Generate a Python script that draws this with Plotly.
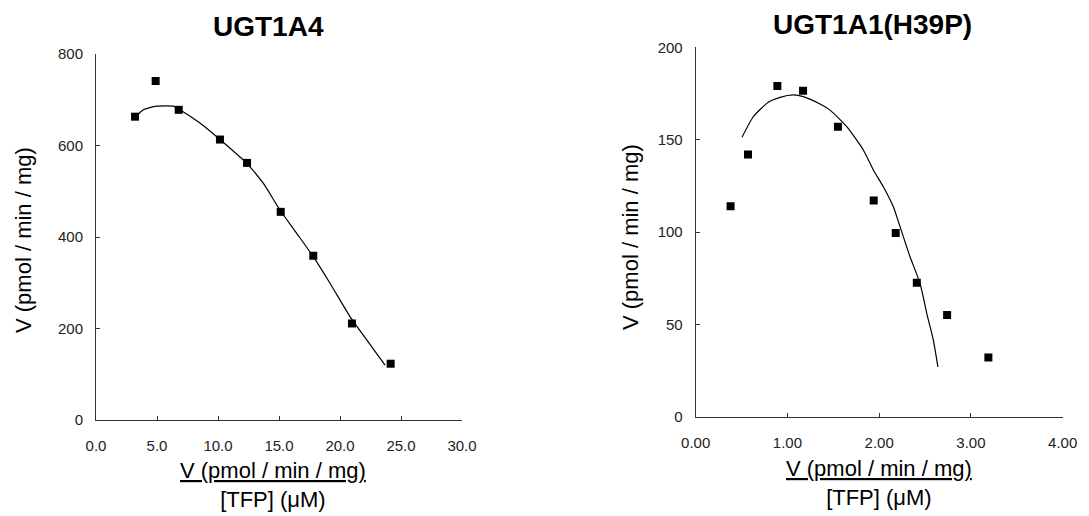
import plotly.graph_objects as go

W, H = 1089, 516

# ---- Data: UGT1A4 (left panel) ----
a4_x = [3.2, 4.89, 6.78, 10.16, 12.38, 15.14, 17.81, 20.98, 24.15]
a4_y = [663, 741, 678, 613, 562, 455, 359, 211, 123]
a4_fit_x = [3.2, 3.88, 4.97, 6.34, 6.78, 8.52, 10.16, 12.35, 13.72, 15.08, 16.45, 17.81, 19.18, 20.82, 22.19, 23.69]
a4_fit_y = [661, 678, 686, 686, 680, 649, 613, 561, 517, 459, 408, 357, 299, 226, 175, 120]

# ---- Data: UGT1A1(H39P) (right panel) ----
h39_x = [0.38, 0.57, 0.89, 1.17, 1.55, 1.94, 2.18, 2.41, 2.74, 3.19]
h39_y = [114, 142, 179, 176.5, 157, 117, 99.5, 72.5, 55, 32]
h39_fit_x = [0.505, 0.628, 0.791, 0.919, 1.064, 1.173, 1.355, 1.464, 1.646, 1.827, 1.936, 2.045, 2.154, 2.227, 2.336, 2.445, 2.518, 2.59, 2.64]
h39_fit_y = [151.3, 162.4, 170.2, 172.9, 174.2, 173.3, 169.3, 166, 157, 144.4, 133.6, 124.5, 113.7, 102.9, 86.6, 72.2, 56, 41.5, 27]

titles = ["UGT1A4", "UGT1A1(H39P)"]
y_title = "V (pmol / min / mg)"
x_title = "<u>V (pmol / min / mg)</u><br>[TFP] (μM)"

FONT = "Arial, Liberation Sans, sans-serif"

fig = go.Figure()

def px_x(p):
    return p / W

def px_y(p):
    return 1 - p / H

line_style = dict(color="black", width=1.2, shape="spline", smoothing=0.6)
marker_style = dict(symbol="square", size=8, color="black")

fig.add_trace(go.Scatter(x=a4_fit_x, y=a4_fit_y, mode="lines", line=line_style,
                         xaxis="x", yaxis="y", showlegend=False, hoverinfo="skip"))
fig.add_trace(go.Scatter(x=a4_x, y=a4_y, mode="markers", marker=marker_style,
                         xaxis="x", yaxis="y", showlegend=False))
fig.add_trace(go.Scatter(x=h39_fit_x, y=h39_fit_y, mode="lines", line=line_style,
                         xaxis="x2", yaxis="y2", showlegend=False, hoverinfo="skip"))
fig.add_trace(go.Scatter(x=h39_x, y=h39_y, mode="markers", marker=marker_style,
                         xaxis="x2", yaxis="y2", showlegend=False))

axis_common = dict(showline=True, linecolor="#333", linewidth=1, ticks="inside", ticklen=4, tickcolor="#333",
                   showgrid=False, zeroline=False, automargin=False,
                   tickfont=dict(family=FONT, size=15, color="#222"))

fig.update_layout(
    template="none",
    width=W, height=H, margin=dict(l=0, r=0, t=0, b=0, pad=0, autoexpand=False),
    paper_bgcolor="white", plot_bgcolor="white",
    xaxis=dict(domain=[px_x(96), px_x(462)], range=[0, 30], dtick=5, tickformat=".1f", anchor="y",
               ticklabelstandoff=12, **axis_common),
    yaxis=dict(domain=[px_y(420), px_y(54)], range=[0, 800], dtick=200, anchor="x",
               ticklabelstandoff=9, **axis_common),
    xaxis2=dict(domain=[px_x(695.7), px_x(1062.7)], range=[0, 4], dtick=1, tickformat=".2f", anchor="y2",
                ticklabelstandoff=12, **axis_common),
    yaxis2=dict(domain=[px_y(416.7), px_y(47.3)], range=[0, 200], dtick=50, anchor="x2",
                ticklabelstandoff=9, **axis_common),
)

ann = []
ann.append(dict(text="<b>" + titles[0] + "</b>", x=px_x(268), y=px_y(27), xref="paper", yref="paper",
                showarrow=False, xanchor="center", yanchor="middle", font=dict(family=FONT, size=28, color="black")))
ann.append(dict(text="<b>" + titles[1] + "</b>", x=px_x(872), y=px_y(25), xref="paper", yref="paper",
                showarrow=False, xanchor="center", yanchor="middle", font=dict(family=FONT, size=28, color="black")))
ann.append(dict(text=y_title, x=px_x(24), y=px_y(240), xref="paper", yref="paper", textangle=-90,
                showarrow=False, xanchor="center", yanchor="middle", font=dict(family=FONT, size=22, color="black")))
ann.append(dict(text=y_title, x=px_x(631), y=px_y(237), xref="paper", yref="paper", textangle=-90,
                showarrow=False, xanchor="center", yanchor="middle", font=dict(family=FONT, size=22, color="black")))
ann.append(dict(text=x_title, x=px_x(273), y=px_y(485), xref="paper", yref="paper",
                showarrow=False, xanchor="center", yanchor="middle", font=dict(family=FONT, size=22, color="black")))
ann.append(dict(text=x_title, x=px_x(879), y=px_y(483), xref="paper", yref="paper",
                showarrow=False, xanchor="center", yanchor="middle", font=dict(family=FONT, size=22, color="black")))
fig.update_layout(annotations=ann)

fig.write_html("out.html", config={"displayModeBar": False},
               post_script="document.body.style.margin='0';document.body.style.overflow='hidden';")
